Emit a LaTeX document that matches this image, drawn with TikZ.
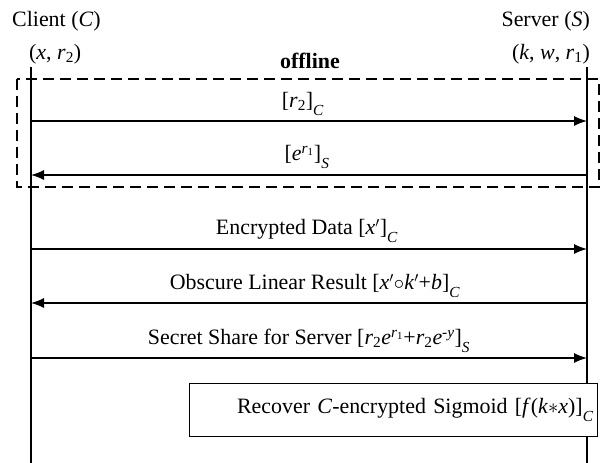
\documentclass[tikz,border=0pt]{standalone}
\usepackage{fontspec}
\setmainfont{Liberation Serif}
\usetikzlibrary{arrows.meta}
\newcommand{\vi}[1]{\textit{#1}}
\newcommand{\lo}[1]{\textsubscript{#1}}
\newcommand{\dlo}[1]{\raisebox{-0.45ex}{\textsubscript{#1}}}
\newcommand{\hi}[1]{\textsuperscript{#1}}
\begin{document}
\begin{tikzpicture}[x=1bp,y=-1bp,
  txt/.style={inner sep=0pt,font=\fontsize{22}{26}\selectfont},
  life/.style={line width=1.3bp},
  msg/.style={line width=1.3bp,-{Latex[length=13bp,width=10bp]}},
  offbox/.style={line width=1.3bp,dash pattern=on 11bp off 6bp},
  procbox/.style={draw,line width=1.3bp,fill=white,minimum width=408bp,minimum height=53bp,
    text width=400bp,align=right,inner sep=3bp,font=\fontsize{22}{26}\selectfont}]
\useasboundingbox (0,0) rectangle (602,463);
% headers
\node[txt,anchor=west] (cl) at (12,21) {Client (\vi{C})};
\node[txt,anchor=west] (cv) at (29,54) {(\vi{x}, \vi{r}\lo{2})};
\node[txt,anchor=east] (sv) at (590,21) {Server (\vi{S})};
\node[txt,anchor=east] (svv) at (590,54) {(\vi{k}, \vi{w}, \vi{r}\lo{1})};
\node[txt,font=\fontsize{22}{26}\selectfont\bfseries] (off) at (310,61) {offline};
% offline box
\draw[offbox] (17,79) rectangle (599,187);
% lifelines
\coordinate (ct) at (31,67);
\coordinate (cb) at (31,463);
\coordinate (st) at (587,67);
\coordinate (sb) at (587,463);
\draw[life] (ct) -- (cb);
\draw[life] (st) -- (sb);
% message anchors
\foreach \n/\y in {1/121,2/175,3/249,4/303,5/358}{
  \coordinate (c\n) at (31,\y);
  \coordinate (s\n) at (587,\y);
}
\draw[msg] (c1) -- (s1);
\draw[msg] (s2) -- (c2);
\draw[msg] (c3) -- (s3);
\draw[msg] (s4) -- (c4);
\draw[msg] (c5) -- (s5);
% labels
\node[txt] (l1) at (303,104) {[\vi{r}\lo{2}]\dlo{\vi{C}}};
\node[txt] (l2) at (307,157) {[\vi{e}\hi{\vi{r}\lo{1}}]\dlo{\vi{S}}};
\node[txt] (l3) at (307,231) {Encrypted Data [\vi{x}$'$]\dlo{\vi{C}}};
\node[txt] (l4) at (315,286) {Obscure Linear Result [\vi{x}$'{\circ}$\vi{k}$'$+\vi{b}]\dlo{\vi{C}}};
\node[txt] (l5) at (309,341) {Secret Share for Server [\vi{r}\lo{2}\vi{e}\hi{\vi{r}\lo{1}}+\vi{r}\lo{2}\vi{e}\hi{-\vi{y}}]\dlo{\vi{S}}};
% process box
\node[procbox,anchor=north west] (rec) at (189,383) {Recover \vi{C}-encrypted Sigmoid [\vi{f}(\vi{k}$\ast$\vi{x})]\dlo{\vi{C}}};
\end{tikzpicture}
\end{document}
